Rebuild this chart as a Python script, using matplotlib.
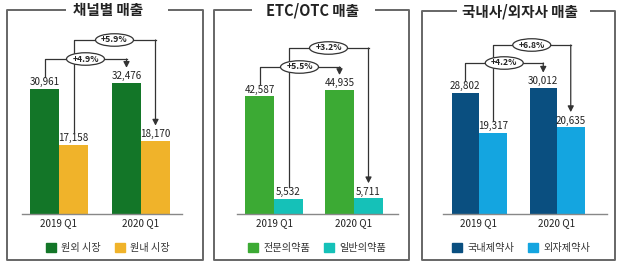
import matplotlib
matplotlib.use("Agg")
import matplotlib.pyplot as plt
from matplotlib.lines import Line2D
from matplotlib.patches import Patch, Ellipse

plt.rcParams['font.family'] = ['Noto Sans CJK KR', 'DejaVu Sans']

# ---------------- data ----------------
periods = ["2019 Q1", "2020 Q1"]

titles = ["채널별 매출", "ETC/OTC 매출", "국내사/외자사 매출"]
series_names = [["원외 시장", "원내 시장"],
                ["전문의약품", "일반의약품"],
                ["국내제약사", "외자제약사"]]
series_a = [[30961, 32476], [42587, 44935], [28802, 30012]]
series_b = [[17158, 18170], [5532, 5711], [19317, 20635]]
growth_a = ["+4.9%", "+5.5%", "+4.2%"]
growth_b = ["+5.9%", "+3.2%", "+6.8%"]
value_labels_a = [["30,961", "32,476"], ["42,587", "44,935"], ["28,802", "30,012"]]
value_labels_b = [["17,158", "18,170"], ["5,532", "5,711"], ["19,317", "20,635"]]

colors = [("#137628", "#f0b32a"), ("#3caa34", "#15c1b8"), ("#0a4f80", "#14a5e0")]

# ---------------- layout (pixels) ----------------
W, H = 620, 264
fig = plt.figure(figsize=(W / 100, H / 100), dpi=100)

axes_specs = [
    dict(x0=22, x1=182, c0=59, c1=141, bw=29, scale=0.00404, lo=59, hi=40),
    dict(x0=237, x1=398, c0=274, c1=354, bw=29, scale=0.00276, lo=67, hi=48),
    dict(x0=443, x1=607, c0=479, c1=557, bw=27.5, scale=0.00421, lo=63, hi=45),
]
frames = [
    dict(l=7, r=203, t=10, b=260, g0=66, g1=168, tx=108),
    dict(l=214, r=409, t=10, b=260, g0=252, g1=375, tx=313),
    dict(l=422, r=615, t=11, b=260, g0=457, g1=590, tx=520),
]
legend_cx = [108, 317, 521]
base_y = 214
top_y = 20

ov = fig.add_axes([0, 0, 1, 1], zorder=0)
ov.set_xlim(0, W)
ov.set_ylim(H, 0)
ov.axis("off")
for f in frames:
    kw = dict(color="#666666", lw=1.4, solid_capstyle="butt")
    ov.add_line(Line2D([f["g0"], f["l"], f["l"], f["r"], f["r"], f["g1"]],
                       [f["t"], f["t"], f["b"], f["b"], f["t"], f["t"]], **kw))

for i, s in enumerate(axes_specs):
    sep = s["c1"] - s["c0"]
    bw = s["bw"] / sep
    left = s["x0"] / W
    width = (s["x1"] - s["x0"]) / W
    bottom = 1 - base_y / H
    height = (base_y - top_y) / H
    ax = fig.add_axes([left, bottom, width, height], zorder=2)
    ax.patch.set_alpha(0)
    xmin = (s["x0"] - s["c0"]) / sep
    xmax = (s["x1"] - s["c0"]) / sep
    ax.set_xlim(xmin, xmax)
    ymax = (base_y - top_y) / s["scale"]
    ax.set_ylim(0, ymax)
    upp = 1 / s["scale"]
    xpp = 1 / sep

    xs = [0, 1]
    xa = [x - bw / 2 for x in xs]
    xb = [x + bw / 2 for x in xs]
    ca, cb = colors[i]
    ax.bar(xa, series_a[i], width=bw, color=ca, label=series_names[i][0], zorder=2)
    ax.bar(xb, series_b[i], width=bw, color=cb, label=series_names[i][1], zorder=2)

    for xx, v, t in zip(xa, series_a[i], value_labels_a[i]):
        ax.text(xx, v + 6.5 * upp, t, ha="center", va="center", fontsize=7.1, color="#222222")
    for xx, v, t in zip(xb, series_b[i], value_labels_b[i]):
        ax.text(xx, v + 6.5 * upp, t, ha="center", va="center", fontsize=7.1, color="#222222")

    def bracket(x_start, v_start, x_end, v_end, level_px, label):
        y_lvl = (base_y - level_px) * upp
        ys = v_start + 12 * upp
        ye = v_end + 15 * upp
        ax.plot([x_start, x_start, x_end], [ys, y_lvl, y_lvl],
                color="#333333", lw=0.9, zorder=3, clip_on=False)
        ax.annotate("", xy=(x_end, ye), xytext=(x_end, y_lvl),
                    arrowprops=dict(arrowstyle="-|>,head_length=0.35,head_width=0.18",
                                    color="#333333", lw=0.9, shrinkA=0, shrinkB=0),
                    zorder=3, annotation_clip=False)
        xc = (x_start + x_end) / 2
        ax.add_patch(Ellipse((xc, y_lvl), 38 * xpp, 12.5 * upp, facecolor="white",
                             edgecolor="#333333", lw=0.9, zorder=4, clip_on=False))
        ax.text(xc, y_lvl, label, ha="center", va="center",
                fontsize=6.2, fontweight="bold", color="#222222", zorder=5)

    bracket(xa[0], series_a[i][0], xa[1], series_a[i][1], s["lo"], growth_a[i])
    bracket(xb[0], series_b[i][0], xb[1], series_b[i][1], s["hi"], growth_b[i])

    ax.set_xticks(xs)
    ax.set_xticklabels(periods, fontsize=7.1, color="#222222")
    ax.tick_params(axis="x", length=0, pad=3)
    ax.set_yticks([])
    for sp in ["top", "right", "left"]:
        ax.spines[sp].set_visible(False)
    ax.spines["bottom"].set_color("#888888")
    ax.spines["bottom"].set_linewidth(1.0)

    f = frames[i]
    ov.text(f["tx"], f["t"] + 0.5, titles[i], ha="center", va="center",
            fontsize=10.5, fontweight="bold", color="#222222")

    handles = [Patch(color=ca, label=series_names[i][0]),
               Patch(color=cb, label=series_names[i][1])]
    fig.legend(handles=handles, loc="center", ncol=2, frameon=False,
               bbox_to_anchor=(legend_cx[i] / W, 1 - 248 / H),
               fontsize=7.3, handlelength=1.0, handleheight=0.9, handletextpad=0.5,
               columnspacing=1.4, borderpad=0, labelcolor="#333333")

fig.savefig("out.png", dpi=100)
